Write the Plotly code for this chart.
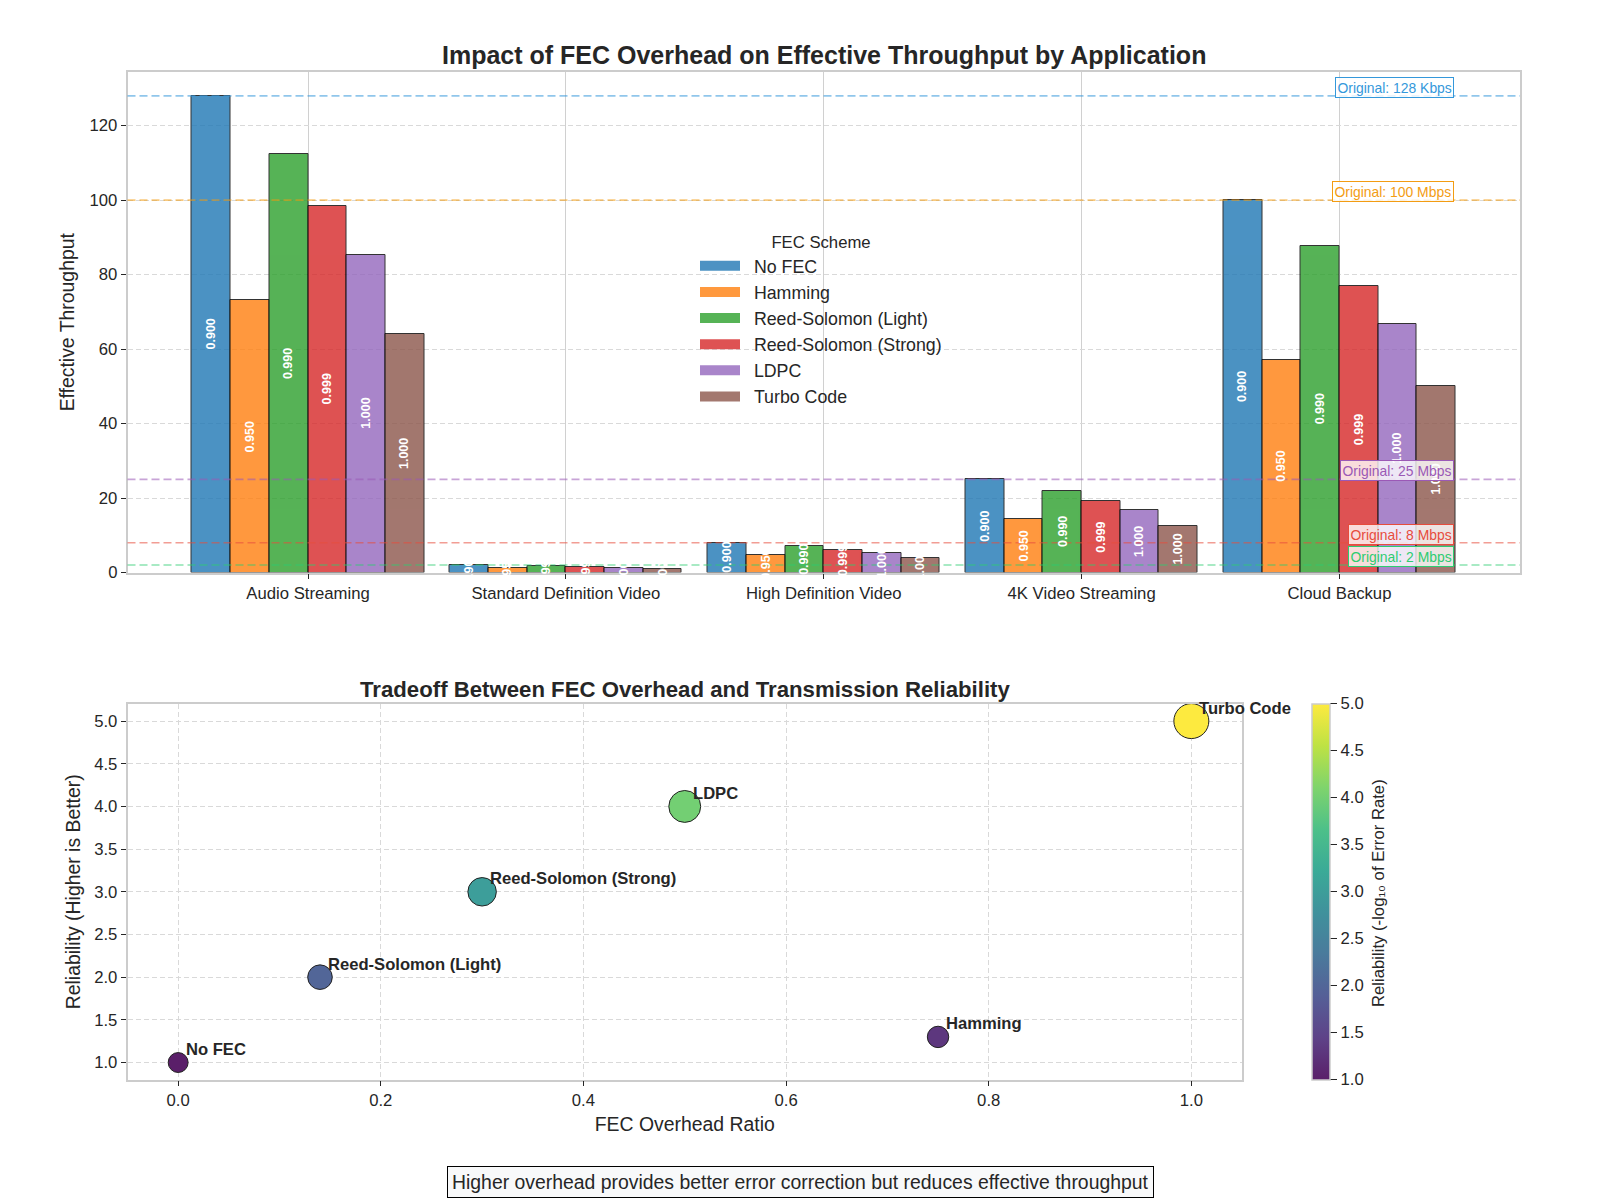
import plotly.graph_objects as go

# ---------------- data ----------------
categories = ["Audio Streaming", "Standard Definition Video", "High Definition Video",
              "4K Video Streaming", "Cloud Backup"]
schemes = ["No FEC", "Hamming", "Reed-Solomon (Light)", "Reed-Solomon (Strong)", "LDPC", "Turbo Code"]

no_fec = [128.0, 2.0, 8.0, 25.0, 100.0]
hamming = [73.1, 1.14, 4.57, 14.3, 57.1]
rs_light = [112.3, 1.75, 7.02, 21.9, 87.7]
rs_strong = [98.5, 1.54, 6.15, 19.2, 76.9]
ldpc = [85.3, 1.33, 5.33, 16.7, 66.7]
turbo = [64.0, 1.0, 4.0, 12.5, 50.0]
throughput = [no_fec, hamming, rs_light, rs_strong, ldpc, turbo]

reliability_factor = [0.900, 0.950, 0.990, 0.999, 1.000, 1.000]

original_rates = [128, 100, 25, 8, 2]
original_labels = ["Original: 128 Kbps", "Original: 100 Mbps", "Original: 25 Mbps",
                   "Original: 8 Mbps", "Original: 2 Mbps"]

overhead_ratio = [0.0, 0.75, 0.14, 0.30, 0.50, 1.00]
reliability = [1.0, 1.3, 2.0, 3.0, 4.0, 5.0]

note = "Higher overhead provides better error correction but reduces effective throughput"

# ---------------- style ----------------
FONT = "Liberation Sans, Arial, sans-serif"
TXT = "#262626"
bar_colors = ["#1f77b4", "#ff7f0e", "#2ca02c", "#d62728", "#9467bd", "#8c564b"]
line_colors = ["#3498db", "#f39c12", "#9b59b6", "#e74c3c", "#2ecc71"]
GRID = "#d9d9d9"
FRAME = "#cccccc"


def hex_rgb(h):
    h = h.lstrip("#")
    return tuple(int(h[i:i + 2], 16) for i in (0, 2, 4))


def rgba(h, a):
    r, g, b = hex_rgb(h)
    return f"rgba({r},{g},{b},{a})"


viridis = ["#440154", "#482878", "#3e4989", "#31688e", "#26828e",
           "#1f9e89", "#35b779", "#6ece58", "#b5de2b", "#fde725"]
faded = []
for i, h in enumerate(viridis):
    r, g, b = hex_rgb(h)
    a = 0.88
    faded.append([i / (len(viridis) - 1),
                  f"rgb({round(r*a+255*(1-a))},{round(g*a+255*(1-a))},{round(b*a+255*(1-a))})"])

fig = go.Figure()

n = len(schemes)
bw = 0.15
annotations = []
for j, (name, vals) in enumerate(zip(schemes, throughput)):
    off = (j - (n - 1) / 2) * bw
    xs = [i + off for i in range(len(categories))]
    fig.add_trace(go.Bar(
        x=xs, y=vals, width=bw, name=name, showlegend=False, legendgroup=name,
        marker=dict(color=bar_colors[j], opacity=0.8, line=dict(color="black", width=1)),
        xaxis="x", yaxis="y", hoverinfo="skip",
    ))
    # legend swatch (wide rectangle like the reference)
    fig.add_trace(go.Scatter(
        x=[None], y=[None], mode="lines", name="\u2002" + name, legendgroup=name, showlegend=True,
        line=dict(color=rgba(bar_colors[j], 0.8), width=13), xaxis="x", yaxis="y",
        hoverinfo="skip",
    ))
    for x, v in zip(xs, vals):
        annotations.append(dict(
            x=x, y=v / 2, xref="x", yref="y", text=f"<b>{reliability_factor[j]:.3f}</b>",
            textangle=-90, showarrow=False, font=dict(family=FONT, size=12.5, color="white"),
        ))

shapes = []
for rate, lab, col in zip(original_rates, original_labels, line_colors):
    shapes.append(dict(type="line", xref="x domain", yref="y", x0=0, x1=1, y0=rate, y1=rate,
                       line=dict(color=rgba(col, 0.55), width=1.6, dash="8px,4px"), layer="above"))
    annotations.append(dict(
        x=4.445, y=rate, xref="x", yref="y", xanchor="right", yanchor="bottom", yshift=-2,
        text=lab, showarrow=False, font=dict(family=FONT, size=13.9, color=col),
        bgcolor="rgba(255,255,255,0.8)", bordercolor=col, borderwidth=1, borderpad=1.5,
    ))

# scatter
sizes = [(190 + 207 * r) ** 0.5 for r in reliability]
fig.add_trace(go.Scatter(
    x=overhead_ratio, y=reliability, mode="markers", showlegend=False,
    xaxis="x2", yaxis="y2", hoverinfo="skip",
    marker=dict(size=sizes, color=reliability, cmin=1, cmax=5, colorscale=faded, opacity=1,
                line=dict(color="#222222", width=1),
                colorbar=dict(
                    x=1311.5 / 1600, xanchor="left", xpad=0, ypad=0,
                    y=1 - 1079.6 / 1200, yanchor="bottom", len=375.5 / 1200, lenmode="fraction",
                    thickness=18, outlinecolor=FRAME, outlinewidth=1.5,
                    tickvals=[1.0, 1.5, 2.0, 2.5, 3.0, 3.5, 4.0, 4.5, 5.0], tickformat=".1f",
                    ticks="outside", ticklen=7, tickcolor=TXT,
                    tickfont=dict(family=FONT, size=16.7, color=TXT),
                )),
))
annotations.append(dict(
    x=1378 / 1600, y=1 - 893 / 1200, xref="paper", yref="paper", xanchor="center", yanchor="middle",
    text="Reliability (-log₁₀ of Error Rate)", textangle=-90, showarrow=False,
    font=dict(family=FONT, size=16.7, color=TXT),
))
for x, y, name in zip(overhead_ratio, reliability, schemes):
    annotations.append(dict(
        x=x, y=y, xref="x2", yref="y2", xanchor="left", yanchor="bottom",
        xshift=6, yshift=1.5, text=f"<b>{name}</b>", showarrow=False,
        font=dict(family=FONT, size=16.6, color=TXT),
    ))

annotations.append(dict(
    x=0.5, y=1 - 1182 / 1200, xref="paper", yref="paper", xanchor="center", yanchor="middle",
    text=note, showarrow=False, font=dict(family=FONT, size=19.4, color=TXT),
    bgcolor="#f8f9fa", bordercolor="black", borderwidth=1, borderpad=4,
))

annotations.append(dict(
    x=823.7 / 1600, y=1 - 55 / 1200, xref="paper", yref="paper", xanchor="center", yanchor="middle",
    text="<b>Impact of FEC Overhead on Effective Throughput by Application</b>", showarrow=False,
    font=dict(family=FONT, size=25, color=TXT),
))
annotations.append(dict(
    x=(127.5 + 1242) / 2 / 1600, y=1 - 689 / 1200, xref="paper", yref="paper", xanchor="center",
    yanchor="middle",
    text="<b>Tradeoff Between FEC Overhead and Transmission Reliability</b>", showarrow=False,
    font=dict(family=FONT, size=22.2, color=TXT),
))

axis_common = dict(showline=True, linecolor=FRAME, linewidth=1.5, mirror=True,
                   ticks="outside", ticklen=5, tickcolor=TXT, tickwidth=1.2,
                   tickfont=dict(family=FONT, size=16.7, color=TXT), zeroline=False,
                   gridcolor=GRID, gridwidth=1, automargin=False)

fig.update_layout(
    width=1600, height=1200, margin=dict(l=0, r=0, t=0, b=0, autoexpand=False),
    paper_bgcolor="white", plot_bgcolor="white",
    barmode="overlay", bargap=0,
    font=dict(family=FONT, color=TXT),
    xaxis=dict(axis_common, domain=[127.5 / 1600, 1520 / 1600], anchor="y",
               range=[-0.7, 4.7], tickvals=list(range(len(categories))), ticktext=categories,
               showgrid=True, griddash="solid", gridcolor="#d0d0d0"),
    yaxis=dict(axis_common, domain=[1 - 572.5 / 1200, 1 - 72 / 1200], anchor="x",
               range=[0, 134.4], tickvals=[0, 20, 40, 60, 80, 100, 120],
               showgrid=True, griddash="5px,3px",
               title=dict(text="Effective Throughput", font=dict(family=FONT, size=19.4, color=TXT),
                          standoff=10)),
    xaxis2=dict(axis_common, domain=[127.5 / 1600, 1242 / 1600], anchor="y2",
                range=[-0.05, 1.05], tickvals=[0, 0.2, 0.4, 0.6, 0.8, 1.0], tickformat=".1f",
                showgrid=True, griddash="5px,3px",
                title=dict(text="FEC Overhead Ratio", font=dict(family=FONT, size=19.4, color=TXT),
                           standoff=8)),
    yaxis2=dict(axis_common, domain=[1 - 1079.6 / 1200, 1 - 704 / 1200], anchor="x2",
                range=[0.8, 5.2], tickvals=[1.0, 1.5, 2.0, 2.5, 3.0, 3.5, 4.0, 4.5, 5.0],
                tickformat=".1f", showgrid=True, griddash="5px,3px",
                title=dict(text="Reliability (Higher is Better)",
                           font=dict(family=FONT, size=19.4, color=TXT), standoff=8)),
    legend=dict(x=695 / 1600, y=1 - 226 / 1200, xanchor="left", yanchor="top",
                bgcolor="rgba(0,0,0,0)", borderwidth=0,
                font=dict(family=FONT, size=17.8, color=TXT),
                title=dict(text="FEC Scheme", side="top center",
                           font=dict(family=FONT, size=16.7, color=TXT)),
                itemwidth=40, tracegroupgap=0),
    shapes=shapes,
    annotations=annotations,
    showlegend=True,
)

fig.write_html("out.html")
